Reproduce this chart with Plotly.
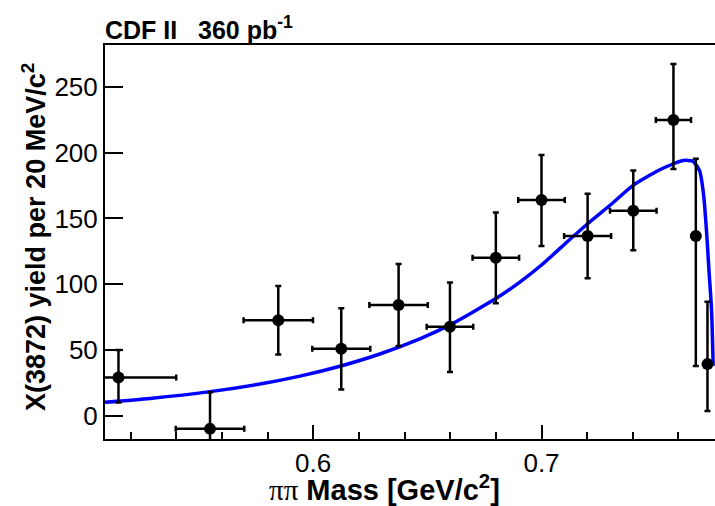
import plotly.graph_objects as go

# ---- data ----
mass = [0.5147, 0.5548, 0.5847, 0.6123, 0.6374, 0.6599, 0.6800, 0.7000,
        0.7202, 0.7402, 0.7578, 0.7676, 0.7727]
yield_vals = [29.1, -9.9, 72.6, 51.0, 84.2, 67.7, 120.1, 164.0,
              136.6, 155.9, 224.8, 136.6, 39.3]
err_up = [21.0, 27.9, 26.0, 30.7, 31.1, 33.7, 34.5, 34.2,
          32.2, 30.6, 42.5, 58.8, 47.4]
err_down = [19.0, 28.0, 25.9, 30.9, 31.2, 34.4, 34.6, 35.0,
            32.1, 30.1, 37.3, 98.8, 35.7]
mass_err = [0.0253, 0.0150, 0.0152, 0.0127, 0.0128, 0.0102, 0.0102, 0.0102,
            0.0103, 0.0102, 0.0077, 0.0, 0.0]

curve_x = [0.5088, 0.5285, 0.5548, 0.5767, 0.5942, 0.6117, 0.6292, 0.6467,
           0.6599, 0.6800, 0.6905, 0.7000, 0.7124, 0.7202, 0.7300, 0.7400,
           0.7518, 0.7619, 0.7663, 0.7693, 0.7710, 0.7723, 0.7733, 0.7745,
           0.7752]
curve_y = [10.3, 13.2, 18.4, 24.2, 30.2, 37.7, 47.0, 58.5,
           69.1, 89.1, 101.6, 114.6, 134.0, 146.0, 160.0, 175.0,
           187.0, 194.0, 193.5, 186.0, 168.0, 140.0, 112.0, 80.0,
           38.0]

x_range = [0.5088, 0.7760]
y_range = [-17.6, 281.8]
y_ticks = [0, 50, 100, 150, 200, 250]
x_ticks = [0.6, 0.7]
x_ticklabels = ["0.6", "0.7"]

FONT = "Liberation Sans, Arial, Helvetica, sans-serif"

fig = go.Figure()
fig.add_trace(go.Scatter(
    x=curve_x, y=curve_y, mode="lines",
    line=dict(color="#0000ff", width=3.5, shape="spline", smoothing=0.6),
    hoverinfo="skip", showlegend=False))
fig.add_trace(go.Scatter(
    x=mass, y=yield_vals, mode="markers",
    marker=dict(color="black", size=12),
    error_y=dict(type="data", symmetric=False, array=err_up, arrayminus=err_down,
                 color="black", thickness=2.5, width=3),
    error_x=dict(type="data", array=mass_err, color="black", thickness=2.5, width=3),
    showlegend=False))

fig.update_layout(
    width=715, height=506,
    margin=dict(l=105, r=0, t=45, b=67),
    paper_bgcolor="white", plot_bgcolor="white",
    font=dict(family=FONT, size=26, color="black"),
    xaxis=dict(range=x_range, tickvals=x_ticks, ticktext=x_ticklabels,
               ticks="inside", ticklen=14, tickwidth=2, tickcolor="black",
               minor=dict(dtick=0.02, tick0=0.5, ticks="inside", ticklen=7,
                          tickwidth=2, tickcolor="black"),
               showline=True, linewidth=2, linecolor="black", mirror=True,
               showgrid=False, zeroline=False, ticklabelstandoff=0,
               tickfont=dict(size=26)),
    yaxis=dict(range=y_range, tickvals=y_ticks,
               ticks="inside", ticklen=18, tickwidth=2, tickcolor="black",
               showline=True, linewidth=2, linecolor="black",
               showgrid=False, zeroline=False, ticklabelstandoff=0,
               tickfont=dict(size=26)),
    annotations=[
        dict(text="<b>CDF II\u00a0\u00a0\u00a0360 pb<sup>-1</sup></b>",
             xref="paper", yref="paper", x=-0.0033, y=1.0431,
             xanchor="left", yanchor="middle", showarrow=False,
             font=dict(size=25)),
        dict(text="<b>X(3872) yield per 20 MeV/c<sup>2</sup></b>",
             xref="paper", yref="paper", x=-0.1164, y=0.5127, textangle=-90,
             xanchor="center", yanchor="middle", showarrow=False,
             font=dict(size=27)),
        dict(text="<span style=\"font-family:'Liberation Serif', 'Times New Roman', serif\">ππ</span> <b>Mass [GeV/c<sup>2</sup>]</b>",
             xref="paper", yref="paper", x=0.459, y=-0.1244,
             xanchor="center", yanchor="middle", showarrow=False,
             font=dict(size=29)),
    ],
)

fig.write_html("out.html")
